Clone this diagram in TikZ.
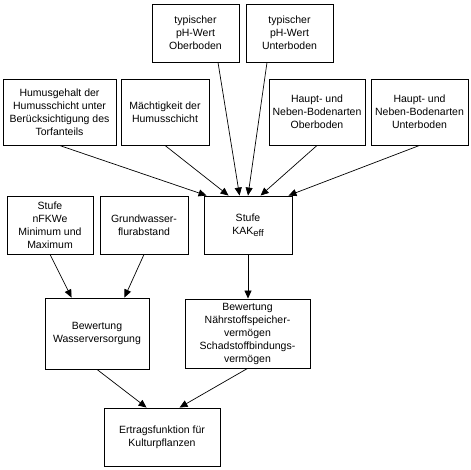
\documentclass[tikz,border=0pt]{standalone}
\usepackage{fontspec}
\setmainfont{Liberation Sans}
\usetikzlibrary{arrows.meta,calc}
\begin{document}
\begin{tikzpicture}[x=1pt,y=-1pt,
  box/.style={draw, line width=0.9pt, inner sep=0pt, align=center,
    font=\fontsize{10.5}{13}\selectfont},
  arr/.style={-{Triangle[length=8pt,width=7pt]}, line width=0.7pt}]
\useasboundingbox[fill=white] (0,0) rectangle (470,470);
% top row
\node[box, minimum width=87pt, minimum height=58pt] (phO) at (195.5,33) {typischer\\pH-Wert\\Oberboden};
\node[box, minimum width=87pt, minimum height=58pt] (phU) at (289.5,33) {typischer\\pH-Wert\\Unterboden};
% second row
\node[box, minimum width=113pt, minimum height=66pt] (humus) at (59.5,112) {Humusgehalt der\\Humusschicht unter\\Berücksichtigung des\\Torfanteils};
\node[box, minimum width=88pt, minimum height=66pt] (mach) at (165,112) {Mächtigkeit der\\Humusschicht};
\node[box, minimum width=96pt, minimum height=66pt] (hauptO) at (317,112) {Haupt- und\\Neben-Bodenarten\\Oberboden};
\node[box, minimum width=97pt, minimum height=66pt] (hauptU) at (419.5,112) {Haupt- und\\Neben-Bodenarten\\Unterboden};
% third row
\node[box, minimum width=86pt, minimum height=58pt] (nfk) at (50,225) {Stufe\\nFKWe\\Minimum und\\Maximum};
\node[box, minimum width=88pt, minimum height=58pt] (grund) at (144,225) {Grundwasser-\\flurabstand};
\node[box, minimum width=88pt, minimum height=58pt] (kak) at (248,225) {Stufe\\KAK\raisebox{-2.5pt}{\fontsize{9.5}{9.5}\selectfont eff}};
% fourth row
\node[box, minimum width=104pt, minimum height=71pt] (wasser) at (97,333.5) {Bewertung\\Wasserversorgung};
\node[box, minimum width=125pt, minimum height=69pt] (naehr) at (247.5,333.5) {Bewertung\\Nährstoffspeicher-\\vermögen\\Schadstoffbindungs-\\vermögen};
% bottom
\node[box, minimum width=116pt, minimum height=58pt] (ertrag) at (162,437) {Ertragsfunktion für\\Kulturpflanzen};
% arrows
\draw[arr] (humus.south) -- ([xshift=3pt]kak.north west);
\draw[arr] (mach.south) -- ([xshift=25pt]kak.north west);
\draw[arr] ([xshift=22.5pt]phO.south) -- ([xshift=36pt]kak.north west);
\draw[arr] ([xshift=-22.5pt]phU.south) -- (kak.north);
\draw[arr] (hauptO.south) -- ([xshift=57pt]kak.north west);
\draw[arr] (hauptU.south) -- ([xshift=-4pt]kak.north east);
\draw[arr] (kak.south) -- (kak.south |- naehr.north);
\draw[arr] (nfk.south) -- ([xshift=27pt]wasser.north west);
\draw[arr] (grund.south) -- ([xshift=-25pt]wasser.north east);
\draw[arr] (wasser.south) -- ([xshift=43pt]ertrag.north west);
\draw[arr] (naehr.south) -- ([xshift=76pt]ertrag.north west);
\end{tikzpicture}
\end{document}
